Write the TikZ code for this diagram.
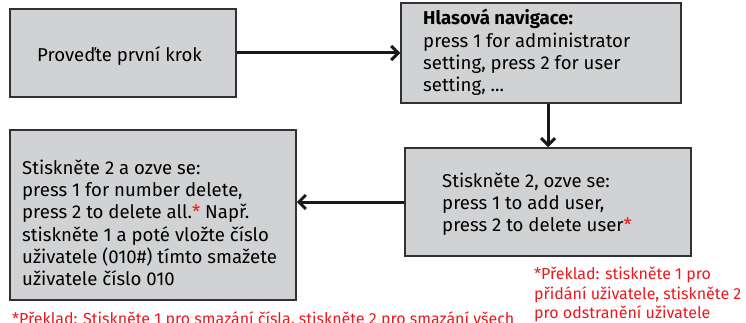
\documentclass[tikz,border=0pt]{standalone}
\usepackage{fontspec}
\setmainfont{Fira Sans}
\usetikzlibrary{arrows.meta}
\definecolor{boxfill}{RGB}{209,210,212}
\definecolor{boxline}{RGB}{50,50,52}
\definecolor{notered}{RGB}{240,22,28}
\begin{document}
\begin{tikzpicture}[x=1pt,y=-1pt,
  box/.style={draw=boxline, fill=boxfill, line width=1.5pt, inner sep=0pt},
  conn/.style={line width=3pt, draw=black!90, -{Straight Barb[length=7pt,width=14pt,line width=3pt]}},
  boxtext/.style={anchor=base west, align=left, inner sep=0pt, font=\fontsize{18.6pt}{22.3pt}\selectfont},
  redtext/.style={anchor=base west, align=left, inner sep=0pt, text=notered, font=\fontsize{16pt}{19.3pt}\selectfont}]
\useasboundingbox (0,0) rectangle (746,323);
\clip (0,0) rectangle (746,323);
\node[box, minimum width=226pt, minimum height=88pt] (b1) at (123,53) {};
\node[box, minimum width=280pt, minimum height=100pt] (b2) at (541,53) {};
\node[box, minimum width=286pt, minimum height=108pt] (b3) at (548,202) {};
\node[box, minimum width=286pt, minimum height=170pt] (b4) at (153,215) {};
\node[boxtext] (t1) at (37,61.7) {Proveďte první krok};
\node[boxtext] (t2) at (423,91.7) {\textbf{Hlasová navigace:}\\press 1 for administrator\\setting, press 2 for user\\setting, ...};
\node[boxtext] (t3) at (442,231.7) {Stiskněte 2, ozve se:\\press 1 to add user,\\press 2 to delete user\textcolor{notered}{*}};
\node[boxtext] (t4) at (22,285.7) {Stiskněte 2 a ozve se:\\press 1 for number delete,\\press 2 to delete all.\textcolor{notered}{*} Např.\\stiskněte 1 a poté vložte číslo\\uživatele (010\#) tímto smažete\\uživatele číslo 010};
\node[redtext] (r1) at (12,324) {*Překlad: Stiskněte 1 pro smazání čísla, stiskněte 2 pro smazání všech};
\node[redtext] (r2) at (534,318.5) {*Překlad: stiskněte 1 pro\\přidání uživatele, stiskněte 2\\pro odstranění uživatele};
\draw[conn] (b1.east) -- (b2.west);
\draw[conn] (b3.north |- b2.south) -- (b3.north);
\draw[conn] (b3.west) -- (b4.east |- b3.west);
\end{tikzpicture}
\end{document}
